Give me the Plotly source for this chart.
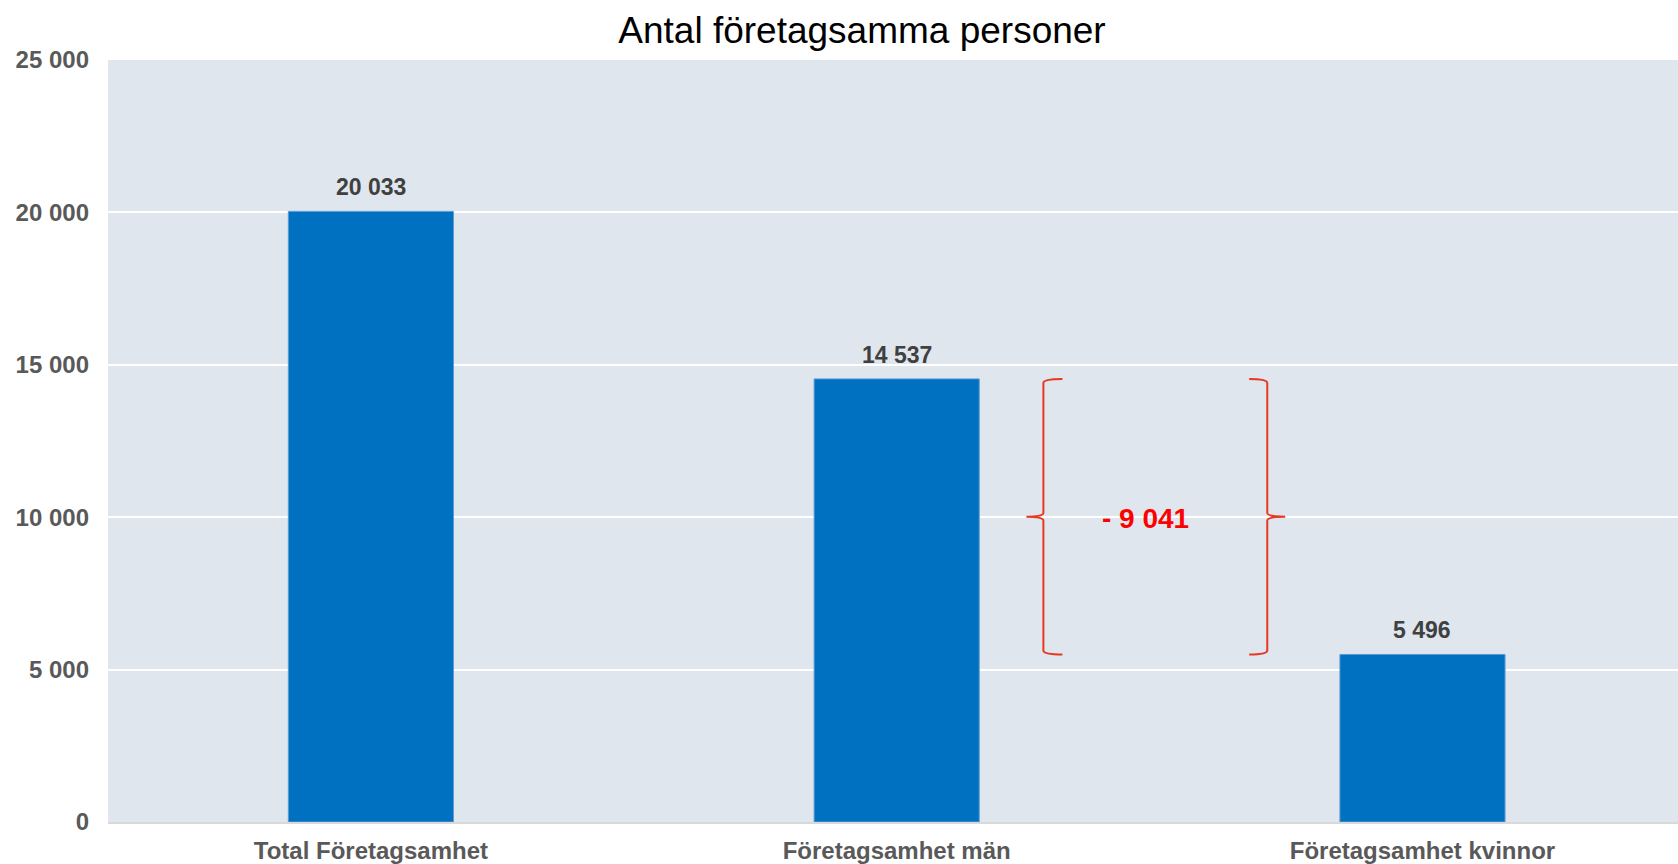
import plotly.graph_objects as go

categories = ["Total Företagsamhet", "Företagsamhet män", "Företagsamhet kvinnor"]
values = [20033, 14537, 5496]
y_ticks = [0, 5000, 10000, 15000, 20000, 25000]
title = "Antal företagsamma personer"

x_pos = list(range(len(categories)))
men, women = values[1], values[2]
diff = men - women
mid = (men + women) / 2

fig = go.Figure()
fig.add_trace(go.Bar(
    x=x_pos, y=values, width=0.314,
    marker=dict(color="#0070C0", line=dict(color="#5B9BD5", width=1)),
    hoverinfo="skip",
))

FONT = "Liberation Sans, Arial, sans-serif"

for xi, v in zip(x_pos, values):
    fig.add_annotation(
        x=xi, y=v, xref="x", yref="y", text=f"<b>{v:,}</b>".replace(",", " "),
        showarrow=False, yanchor="bottom", yshift=9,
        font=dict(family=FONT, size=23, color="#404040"),
    )

# curly braces showing the difference between men and women
d = 131  # curl size in data units (y)
def brace(xv, xarm, xtip):
    return (f"M {xarm} {men} Q {xv} {men} {xv} {men - d} "
            f"L {xv} {mid + d} Q {xv} {mid} {xtip} {mid} "
            f"Q {xv} {mid} {xv} {mid - d} "
            f"L {xv} {women + d} Q {xv} {women} {xarm} {women}")

red = "#E8381F"
fig.add_shape(type="path", xref="x", yref="y",
              path=brace(1.2790, 1.3151, 1.2467), line=dict(color=red, width=2))
fig.add_shape(type="path", xref="x", yref="y",
              path=brace(1.7048, 1.6705, 1.7390), line=dict(color=red, width=2))
fig.add_annotation(
    x=1.473, y=mid, xref="x", yref="y", text=f"<b>- {diff:,}</b>".replace(",", " "),
    showarrow=False, yshift=-2,
    font=dict(family=FONT, size=28, color="#FF0000"),
)

fig.update_layout(
    width=1678, height=864,
    margin=dict(l=108, r=0, t=60, b=42),
    paper_bgcolor="white", plot_bgcolor="#DFE6ED",
    separators=", ",
    showlegend=False,
    title=dict(text=title, x=0.5137, xref="container", xanchor="center",
               y=0.965, yref="container", yanchor="middle",
               font=dict(family=FONT, size=37, color="black")),
    xaxis=dict(
        range=[-0.5, 2.486], tickvals=x_pos, ticktext=[f"<b>{c}</b>" for c in categories],
        showgrid=False, zeroline=False, showline=True, linecolor="#D9D9D9", linewidth=2,
        ticks="", ticklabelstandoff=6,
        tickfont=dict(family=FONT, size=24, color="#595959"),
    ),
    yaxis=dict(
        range=[0, 25000], tickvals=y_ticks,
        ticktext=[f"<b>{t:,}</b>".replace(",", " ") for t in y_ticks],
        showgrid=True, gridcolor="white", gridwidth=2, zeroline=False,
        ticks="", ticklabelstandoff=18,
        tickfont=dict(family=FONT, size=24, color="#595959"),
    ),
)

fig.write_html(
    "out.html",
    config={"displayModeBar": False},
    post_script=(
        "document.documentElement.style.overflow='hidden';"
        "document.body.style.margin='0';document.body.style.overflow='hidden';"
    ),
)
